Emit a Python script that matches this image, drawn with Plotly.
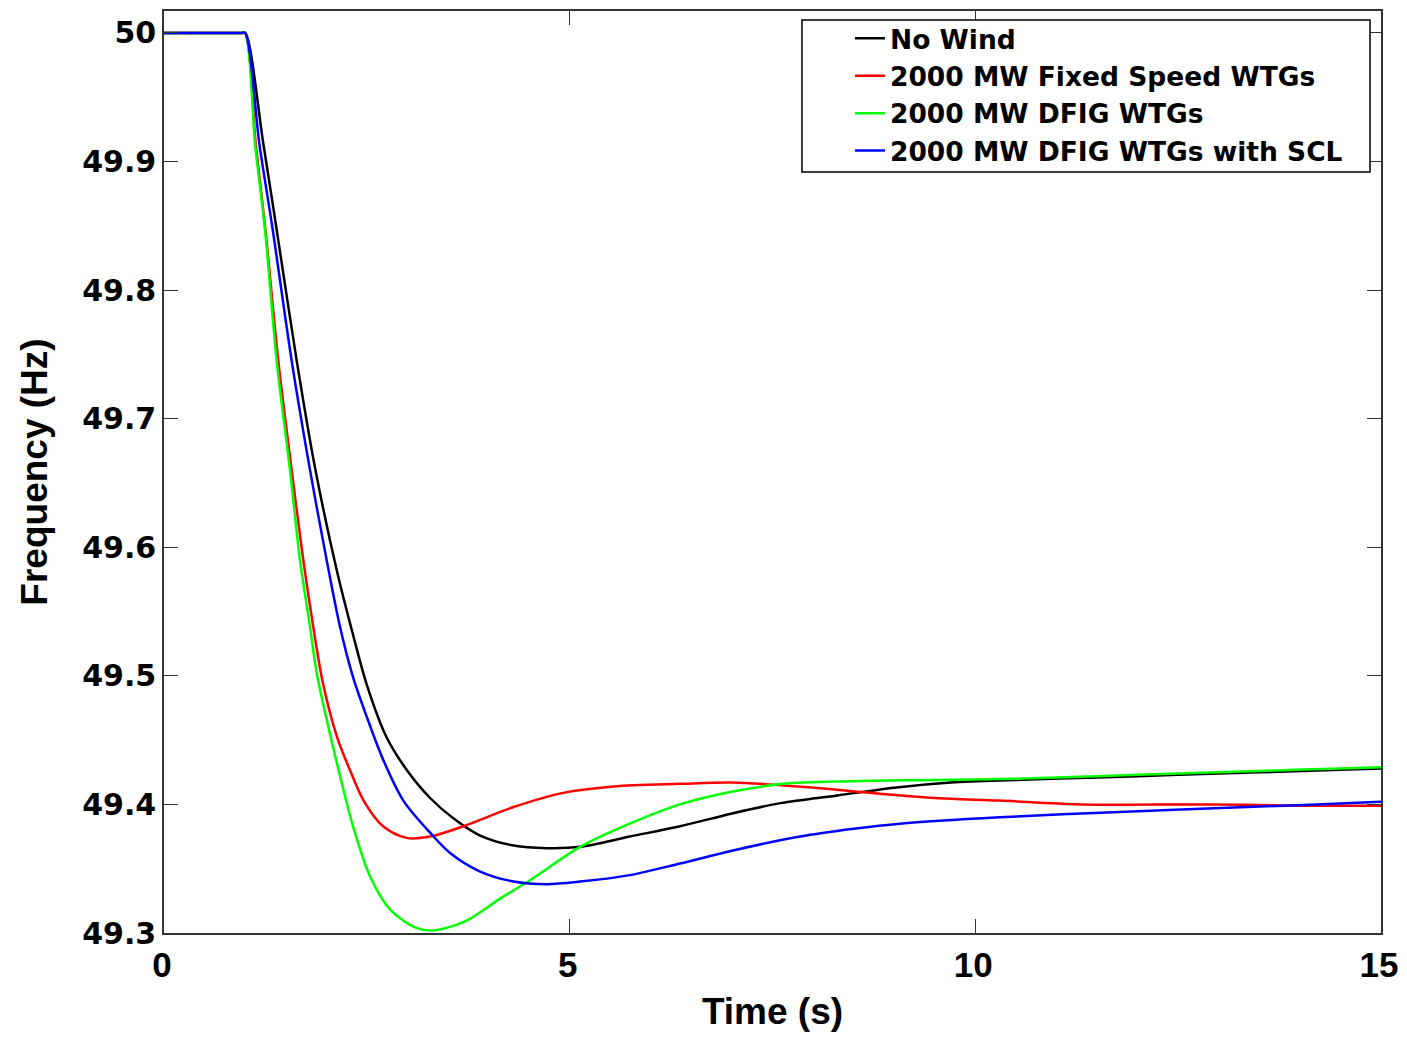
import plotly.graph_objects as go

# ---- data ----
t_nowind = [0, 0.5, 0.95, 1.0, 1.224, 1.389, 1.636, 1.861, 2.13, 2.33, 2.50, 2.745, 2.99, 3.28,
            3.57, 3.89, 4.31, 4.72, 5.13, 5.74, 6.36, 7.0, 7.6, 8.3, 9.0, 9.7, 10.5, 11.5, 12.5,
            13.5, 14.5, 15]
f_nowind = [50, 50, 50, 50, 49.914, 49.847, 49.745, 49.662, 49.582, 49.532, 49.493, 49.452, 49.427,
            49.405, 49.389, 49.376, 49.368, 49.366, 49.367, 49.375, 49.383, 49.393, 49.401, 49.407,
            49.413, 49.417, 49.419, 49.421, 49.423, 49.425, 49.427, 49.428]

t_fixed = [0, 0.5, 0.95, 1.0, 1.13, 1.25, 1.409, 1.574, 1.717, 1.84, 1.96, 2.13, 2.29, 2.46, 2.70,
           2.99, 3.28, 3.69, 4.31, 4.92, 5.54, 6.36, 7.0, 7.6, 8.2, 8.7, 9.5, 10.3, 11.3, 12.9,
           14.0, 15]
f_fixed = [50, 50, 50, 50, 49.914, 49.847, 49.745, 49.660, 49.590, 49.538, 49.494, 49.453, 49.427,
           49.403, 49.383, 49.374, 49.375, 49.383, 49.398, 49.409, 49.414, 49.416, 49.417, 49.415,
           49.412, 49.409, 49.405, 49.403, 49.400, 49.400, 49.399, 49.399]

t_dfig = [0, 0.5, 0.95, 1.0, 1.122, 1.245, 1.389, 1.553, 1.676, 1.80, 1.88, 2.005, 2.17, 2.33,
          2.54, 2.79, 3.11, 3.32, 3.61, 3.77, 3.93, 4.10, 4.51, 5.13, 5.74, 6.36, 7.01, 7.63, 8.46,
          9.5, 10.5, 11.5, 12.5, 13.5, 14.5, 15]
f_dfig = [50, 50, 50, 50, 49.914, 49.847, 49.745, 49.660, 49.590, 49.538, 49.503, 49.466, 49.422,
          49.383, 49.344, 49.318, 49.304, 49.302, 49.3065, 49.311, 49.3175, 49.325, 49.341, 49.367,
          49.385, 49.400, 49.410, 49.416, 49.418, 49.419, 49.420, 49.422, 49.424, 49.426, 49.428,
          49.429]

t_scl = [0, 0.5, 0.95, 1.0, 1.175, 1.34, 1.574, 1.80, 2.005, 2.17, 2.33, 2.50, 2.70, 2.95, 3.28,
         3.53, 3.89, 4.31, 4.72, 5.13, 5.74, 6.36, 7.0, 7.84, 8.5, 9.07, 10.3, 11.7, 13.35, 14.2,
         15]
f_scl = [50, 50, 50, 50, 49.914, 49.847, 49.745, 49.660, 49.590, 49.538, 49.499, 49.468, 49.435,
         49.403, 49.378, 49.362, 49.348, 49.340, 49.338, 49.340, 49.345, 49.354, 49.364, 49.375,
         49.381, 49.385, 49.390, 49.394, 49.398, 49.400, 49.402]

series_names = ["No Wind", "2000 MW Fixed Speed WTGs", "2000 MW DFIG WTGs",
                "2000 MW DFIG WTGs with SCL"]
series_colors = ["#000000", "#ff0000", "#00ff00", "#0000ff"]

x_ticks = [0, 5, 10, 15]
y_ticks = [49.3, 49.4, 49.5, 49.6, 49.7, 49.8, 49.9, 50]
y_tick_text = ["49.3", "49.4", "49.5", "49.6", "49.7", "49.8", "49.9", "50"]

fig = go.Figure()
for t, f, name, col in zip([t_nowind, t_fixed, t_dfig, t_scl],
                           [f_nowind, f_fixed, f_dfig, f_scl],
                           series_names, series_colors):
    fig.add_trace(go.Scatter(x=t, y=f, mode="lines", name=name,
                             line=dict(color=col, width=2.5, shape="spline", smoothing=0.9)))

narrow = "Liberation Sans, Arial, sans-serif"
wide = "DejaVu Sans, Verdana, sans-serif"

# legend frame (drawn as a paper-referenced box behind the legend entries)
fig.add_shape(type="rect", xref="paper", yref="paper",
              x0=0.5242, x1=0.991, y0=0.8254, y1=0.9902,
              line=dict(color="black", width=1.5), fillcolor="white", layer="above")

fig.update_layout(
    width=1391, height=1024,
    margin=dict(l=156, r=18, t=3, b=99, autoexpand=False),
    paper_bgcolor="white", plot_bgcolor="white",
    showlegend=True,
    legend=dict(x=0.5242, y=0.9962, xanchor="left", yanchor="top",
                bgcolor="rgba(0,0,0,0)", borderwidth=0,
                font=dict(family=wide, size=26.5, color="black", weight="bold"),
                indentation=48, tracegroupgap=0),
    xaxis=dict(range=[0, 15], tickvals=x_ticks, ticks="inside", ticklen=14, tickwidth=1.2,
               tickcolor="#333", showline=True, linecolor="#333", linewidth=1.5, mirror="ticks",
               showgrid=False, zeroline=False, ticklabeloverflow="allow", automargin=False,
               ticklabelshift=-2,
               tickfont=dict(family=narrow, size=35, color="black", weight="bold"),
               title=dict(text="Time (s)", standoff=24,
                          font=dict(family=narrow, size=37, color="black", weight="bold"))),
    yaxis=dict(range=[49.3, 50.0171], tickvals=y_ticks, ticktext=y_tick_text, ticks="inside",
               ticklen=14, tickwidth=1.2, tickcolor="#333", showline=True, linecolor="#333",
               linewidth=1.5, mirror="ticks", showgrid=False, zeroline=False,
               ticklabeloverflow="allow", automargin=False,
               tickfont=dict(family=wide, size=30, color="black", weight="bold"),
               title=dict(text="Frequency (Hz)", standoff=23,
                          font=dict(family=narrow, size=37, color="black", weight="bold"))),
)

fig.write_html("out.html")
